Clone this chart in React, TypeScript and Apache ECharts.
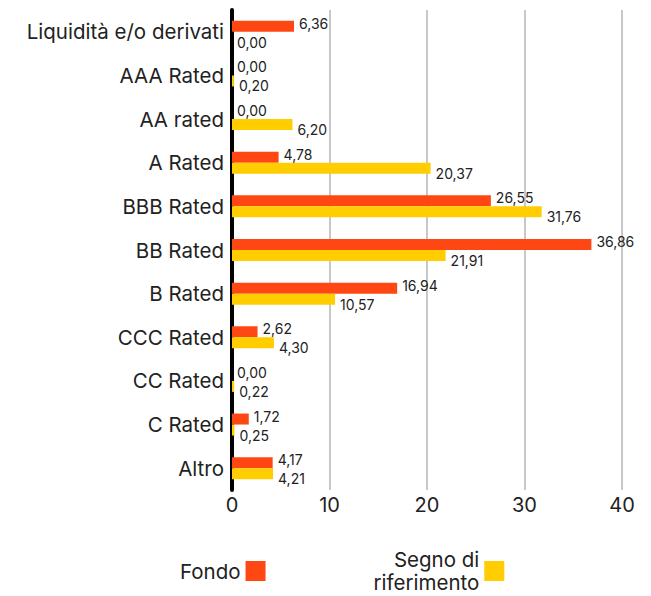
import React, { useEffect, useRef } from "react";
import * as echarts from "echarts";

const categories = [
  "Liquidità e/o derivati",
  "AAA Rated",
  "AA rated",
  "A Rated",
  "BBB Rated",
  "BB Rated",
  "B Rated",
  "CCC Rated",
  "CC Rated",
  "C Rated",
  "Altro",
];
const fondo = [6.36, 0.0, 0.0, 4.78, 26.55, 36.86, 16.94, 2.62, 0.0, 1.72, 4.17];
const benchmark = [0.0, 0.2, 6.2, 20.37, 31.76, 21.91, 10.57, 4.3, 0.22, 0.25, 4.21];
const xTicks = [0, 10, 20, 30, 40];

const FONT = "Inter";
const fmt = (p: any) => Number(p.value).toFixed(2).replace(".", ",");

export default function App() {
  const ref = useRef<HTMLDivElement>(null);
  useEffect(() => {
    document.body.style.margin = "0";
    const chart = echarts.init(ref.current!, null, { renderer: "svg" });
    chart.setOption({
      animation: false,
      textStyle: { fontFamily: FONT },
      grid: { left: 232, right: 29, top: 10, bottom: 106, containLabel: false },
      xAxis: {
        type: "value",
        min: xTicks[0],
        max: xTicks[xTicks.length - 1],
        interval: 10,
        axisLine: { show: false },
        axisTick: { show: false },
        axisLabel: { fontSize: 20, color: "#222", margin: 5, fontFamily: FONT },
        splitLine: { show: true, lineStyle: { color: "#c8c8c8", width: 2 } },
      },
      yAxis: {
        type: "category",
        data: categories,
        inverse: true,
        axisLine: { show: true, lineStyle: { color: "#000", width: 4 } },
        axisTick: { show: false },
        axisLabel: { fontSize: 20.5, color: "#222", margin: 8, fontFamily: FONT },
        splitLine: { show: false },
      },
      legend: {
        data: ["Fondo", "Segno di riferimento"],
        left: 175,
        top: 543,
        orient: "horizontal",
        align: "right",
        icon: "rect",
        itemWidth: 20,
        itemHeight: 20,
        itemGap: 108,
        formatter: (n: string) => (n === "Segno di riferimento" ? "Segno di\nriferimento" : n),
        textStyle: { fontSize: 20.5, color: "#222", lineHeight: 23, fontFamily: FONT },
      },
      series: [
        {
          name: "Fondo",
          type: "bar",
          data: fondo,
          barWidth: 11,
          barGap: "0%",
          itemStyle: { color: "#ff4713" },
          label: {
            show: true,
            position: "right",
            distance: 5,
            offset: [0, -3],
            formatter: fmt,
            fontSize: 14,
            color: "#222",
            fontFamily: FONT,
          },
        },
        {
          name: "Segno di riferimento",
          type: "bar",
          data: benchmark,
          barWidth: 11,
          barGap: "0%",
          itemStyle: { color: "#ffcd00" },
          label: {
            show: true,
            position: "right",
            distance: 5,
            offset: [0, 5],
            formatter: fmt,
            fontSize: 14,
            color: "#222",
            fontFamily: FONT,
          },
        },
      ],
    });
    return () => chart.dispose();
  }, []);
  return <div ref={ref} style={{ width: 651, height: 596 }} />;
}
